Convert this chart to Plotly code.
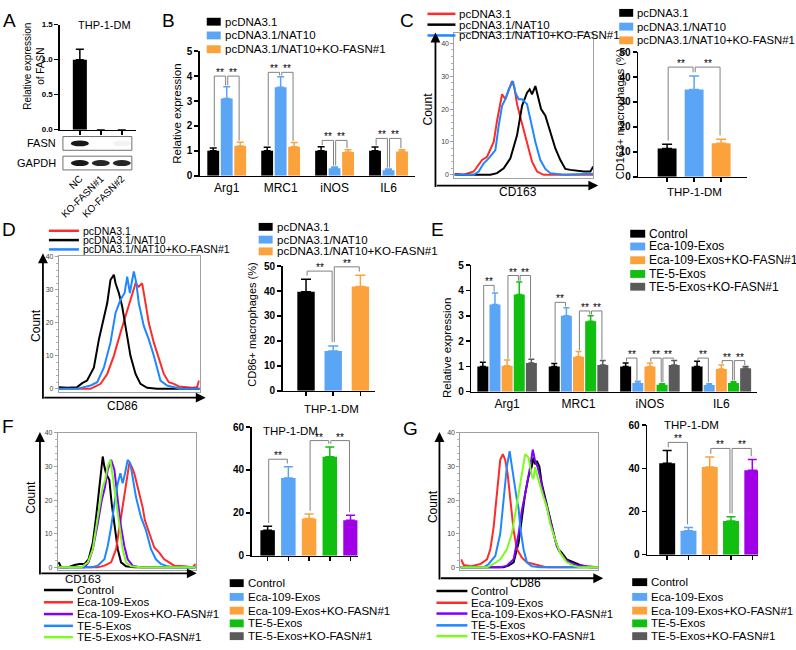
import plotly.graph_objects as go

W, H = 796, 650
FONT = "Arial, 'Liberation Sans', Helvetica, sans-serif"

# ---------------- colours ----------------
BLACK, BLUE, ORANGE, GREEN, GRAY, PURPLE = "#000000", "#5AA5F5", "#FBA23C", "#10BF10", "#5A5A5A", "#A100E6"
H_RED, H_BLACK, H_BLUE, H_PURPLE, H_GREEN = "#FF2A2A", "#000000", "#1E88FF", "#7F00FF", "#7CFC1E"

# ---------------- Panel A ----------------
A_lanes = ["NC", "KO-FASN#1", "KO-FASN#2"]
A_fasn_mean = [1.0, 0.0, 0.0]
A_fasn_sd = [0.15, 0.0, 0.0]
A_blot_rows = ["GAPDH", "FASN"]
A_blot_gapdh = [1.0, 0.95, 0.95]
A_blot_fasn = [1.0, 0.0, 0.06]

# ---------------- Panel B ----------------
B_genes = ["Arg1", "MRC1", "iNOS", "IL6"]
B_groups = ["pcDNA3.1", "pcDNA3.1/NAT10", "pcDNA3.1/NAT10+KO-FASN#1"]
B_mean_ctrl = [1.0, 1.0, 1.0, 1.0]
B_sd_ctrl = [0.12, 0.15, 0.17, 0.16]
B_mean_nat10 = [3.1, 3.55, 0.3, 0.22]
B_sd_nat10 = [0.47, 0.42, 0.05, 0.05]
B_mean_ko = [1.2, 1.17, 0.95, 0.97]
B_sd_ko = [0.15, 0.17, 0.1, 0.08]
B_sig = [(0, 0, 1, 4.0), (0, 1, 2, 4.0), (1, 0, 1, 4.15), (1, 1, 2, 4.15),
         (2, 0, 1, 1.42), (2, 1, 2, 1.42), (3, 0, 1, 1.5), (3, 1, 2, 1.5)]

# ---------------- Panel C (CD163 flow) ----------------
C_red_x = [0, 6.7, 13.9, 19.9, 23.5, 28.3, 30.7, 34.3, 36.7, 39.1, 41.5, 43.2, 45.1, 47.5, 52.3, 55.9, 59.5, 64.3, 100]
C_red_y = [0.3, 0, 1, 4.5, 5.5, 10, 16.5, 24.5, 23, 25.5, 28.5, 26.5, 21.5, 17.5, 9.5, 4, 1, 0, 0]
C_black_x = [0, 25.9, 30.7, 35.5, 40.3, 45.1, 48.7, 52.3, 54.2, 55.9, 58.3, 60, 62.4, 65.5, 69.1, 72.7, 76.3, 79.9, 83.5, 93.1, 97.9, 100]
C_black_y = [0, 0, 0.5, 2, 5, 12, 21, 25, 26, 24.5, 27, 24, 20, 18, 13, 8, 4.5, 1.8, 1.5, 1, 1, 2.5]
C_blue_x = [0, 13.9, 17.5, 21.1, 24.7, 29.5, 31.9, 34.3, 36.7, 39.1, 42.2, 43.9, 46.3, 48.7, 52.3, 54.7, 58.3, 61.9, 65.5, 69.1, 78.7, 100]
C_blue_y = [0, 0, 1, 3.5, 5, 7.5, 15, 21, 23, 26, 28.5, 25, 23, 23, 21.5, 17, 10, 4.5, 1.8, 0.5, 0, 0.3]
C_bar_mean = [11.3, 35.0, 13.5]
C_bar_sd = [1.7, 5.4, 1.6]
C_sig = [(0, 1, 44.0), (1, 2, 44.0)]

# ---------------- Panel D (CD86 flow) ----------------
D_red_x = [0, 22.5, 24.8, 29.6, 34.3, 39, 43.7, 47.3, 50.8, 54.4, 56.7, 59.1, 61.5, 63.8, 67.4, 70.9, 74.5, 78, 81.6, 85.1, 89.8, 94.6, 98.1, 99.5]
D_red_y = [0, 0, 0.5, 1.5, 4.5, 10, 17, 22, 27, 32, 31, 32, 26, 20, 14, 9.4, 4.5, 2, 1.5, 0.7, 0.5, 0.3, 0.5, 2.5]
D_black_x = [0, 5.9, 13, 16.5, 20, 24.8, 28.4, 30.7, 34.3, 36.6, 39, 40.2, 42.6, 44.9, 47.3, 50.8, 54.4, 57.9, 62.6, 69.7, 100]
D_black_y = [0.5, 0.3, 0.5, 1.7, 2.5, 6.4, 15, 19, 26, 33, 34.6, 32, 29, 25, 19, 10, 4.5, 1.5, 0.3, 0, 0]
D_blue_x = [0, 13, 17.7, 22.5, 27.2, 31.9, 36.6, 40.2, 43.7, 46.6, 48.5, 50.4, 52, 53.2, 55, 56.7, 60.3, 63.8, 67.4, 69.7, 72.1, 76.8, 81.6, 86.3, 100]
D_blue_y = [0, 0, 0.5, 1, 2, 6.4, 14, 23, 27, 29, 34, 29, 33, 35.6, 32, 26, 19, 15, 10, 6.4, 2.5, 1, 0.5, 0, 0]
D_bar_mean = [39.7, 16.0, 41.8]
D_bar_sd = [5.0, 2.0, 4.5]
D_sig = [(0, 1, 48.0), (1, 2, 49.7)]

# ---------------- Panel E ----------------
E_genes = ["Arg1", "MRC1", "iNOS", "IL6"]
E_groups = ["Control", "Eca-109-Exos", "Eca-109-Exos+KO-FASN#1", "TE-5-Exos", "TE-5-Exos+KO-FASN#1"]
E_mean_ctrl = [1.0, 1.0, 1.0, 1.0]
E_sd_ctrl = [0.16, 0.12, 0.14, 0.2]
E_mean_eca = [3.45, 3.0, 0.35, 0.27]
E_sd_eca = [0.45, 0.32, 0.06, 0.05]
E_mean_ecako = [1.03, 1.38, 1.0, 0.9]
E_sd_ecako = [0.22, 0.21, 0.14, 0.16]
E_mean_te5 = [3.84, 2.78, 0.28, 0.35]
E_sd_te5 = [0.49, 0.22, 0.04, 0.04]
E_mean_te5ko = [1.14, 1.06, 1.06, 0.93]
E_sd_te5ko = [0.14, 0.17, 0.17, 0.07]
E_sig = [(0, 0, 1, 4.2), (0, 2, 3, 4.59), (0, 3, 4, 4.59),
         (1, 0, 1, 3.53), (1, 2, 3, 3.19), (1, 3, 4, 3.19),
         (2, 0, 1, 1.33), (2, 2, 3, 1.33), (2, 3, 4, 1.33),
         (3, 0, 1, 1.33), (3, 2, 3, 1.23), (3, 3, 4, 1.23)]

# ---------------- Panel F (CD163 flow) ----------------
F_black_x = [0.5, 2.4, 7.2, 12, 15.7, 19.3, 22.2, 25.3, 27.7, 29.4, 30.8, 32.5, 33.7, 34.9, 36.1, 37.3, 39, 41, 43.4, 45.8, 49.4, 55.4, 100]
F_black_y = [1.5, 0, 0, 0.7, 1, 1, 2.4, 7.3, 15, 22, 28, 33, 30, 28, 27, 26, 19, 12, 5.4, 1.5, 0.3, 0, 0]
F_red_x = [0, 28.9, 33.7, 38.6, 42.2, 44.6, 47, 49.4, 51.8, 53.5, 55.4, 57.8, 59.8, 61.4, 63.1, 66.3, 69.9, 73.5, 77.1, 80.7, 84.3, 91.6, 97.6, 100]
F_red_y = [0, 0, 0.5, 1.5, 5.4, 12, 19, 25, 31, 30, 28, 24, 21, 18, 14, 10, 5.9, 4.4, 2.4, 1.5, 0.5, 0.3, 0, 1]
F_purple_x = [0, 19.3, 22.2, 25.3, 28.9, 31.8, 34.2, 36.1, 38.6, 41, 43.4, 45.8, 48.2, 50.6, 54.2, 60.2, 100]
F_purple_y = [0, 0, 1.5, 5.4, 13, 20, 24, 29, 32, 29, 20, 12, 6.3, 2.4, 0.5, 0, 0]
F_blue_x = [0, 24.1, 28.9, 33.7, 36.1, 38.6, 41, 43.4, 45.3, 47, 48.7, 50.6, 52.5, 54.2, 56.6, 60.2, 63.9, 67.5, 71.1, 74.7, 79.5, 84.3, 100]
F_blue_y = [0, 0, 0.5, 2.4, 6.3, 12, 19, 25, 28, 25, 28, 32, 31, 27, 21, 15, 11, 5.4, 2.4, 1, 0.3, 0, 0]
F_green_x = [0, 16.9, 21.7, 25.3, 28.9, 31.3, 32.5, 34.2, 36.1, 38.1, 39.8, 42.2, 44.6, 47, 49.4, 53, 60.2, 100]
F_green_y = [0, 0, 1.5, 5.4, 15, 22, 24, 26, 30, 32, 27, 19, 12, 5.4, 1.5, 0.3, 0, 0]
F_bar_mean = [11.9, 36.2, 17.3, 46.1, 16.5]
F_bar_sd = [1.8, 5.3, 2.1, 4.6, 2.3]
F_sig = [(0, 1, 45.0), (2, 3, 53.7), (3, 4, 53.7)]

# ---------------- Panel G (CD86 flow) ----------------
G_black_x = [0, 31.3, 34.9, 38.6, 42.2, 44.6, 47, 49.4, 51.8, 53, 54.2, 55.4, 57.3, 59, 61.4, 63.9, 66.3, 68.7, 71.1, 73.5, 77.1, 81.9, 86.7, 94, 100]
G_black_y = [0, 0, 0.5, 1.5, 7.3, 15, 22, 27, 30, 32.7, 30.7, 31.7, 30, 25, 21, 17, 13, 8.3, 5.4, 4.4, 2.4, 1.5, 0.7, 0, 0]
G_red_x = [0.5, 2.4, 7.2, 14.5, 19.3, 21.7, 24.1, 26.5, 28.9, 30.8, 32.5, 34.2, 36.1, 38.6, 41, 44.6, 48.2, 53, 57.8, 62.7, 100]
G_red_y = [2.4, 0.7, 0.3, 1, 2.4, 5.4, 12, 23, 32, 33.7, 32, 28, 20, 11, 5.4, 2.9, 1.5, 1, 0.5, 0, 0]
G_purple_x = [0, 28.9, 33.7, 38.6, 42.2, 44.6, 47, 49.4, 50.6, 52.5, 54.2, 55.9, 57.8, 60.2, 62.7, 65.1, 67.5, 69.9, 72.3, 75.9, 79.5, 84.3, 91.6, 100]
G_purple_y = [0, 0, 0.5, 2.4, 10, 17, 22, 27, 30, 35, 31.7, 30, 27, 22, 18, 14, 10, 6.3, 4.4, 2.4, 1.5, 0.7, 0.3, 0]
G_blue_x = [0, 16.9, 20.5, 25.3, 28.9, 31.3, 33.7, 35.7, 37.3, 39, 41, 42.2, 43.4, 45.8, 48.2, 51.8, 57.8, 100]
G_blue_y = [0, 0, 1, 3.4, 10, 20, 30, 34.6, 30, 25, 20, 17.6, 12, 5.4, 1.5, 0.3, 0, 0]
G_green_x = [0, 19.3, 24.1, 28.9, 33.7, 37.3, 39.8, 42.2, 44.6, 47, 49.4, 51.8, 53, 54.2, 55.9, 57.8, 60.2, 62.7, 65.1, 68.7, 72.3, 77.1, 81.9, 86.7, 100]
G_green_y = [0, 0, 1, 2.4, 5.4, 10, 16, 22, 27, 33.7, 32.7, 27.3, 26.3, 29.8, 27, 24, 21, 18, 13, 8.3, 4.4, 1.5, 0.5, 0, 0]
G_bar_mean = [42.4, 11.1, 40.6, 15.6, 39.1]
G_bar_sd = [5.8, 1.5, 4.6, 2.0, 5.0]
G_sig = [(0, 1, 52.0), (2, 3, 49.2), (3, 4, 49.2)]

# =====================================================================
fig = go.Figure()
axes_layout, ann, shapes = {}, [], []
counter = [0]


def px(x):
    return x / W


def py(y):
    return 1 - y / H


def make_axes(x0, x1, y0, y1, xr, yr, xkw=None, ykw=None):
    counter[0] += 1
    s = "" if counter[0] == 1 else str(counter[0])
    xa = dict(domain=[px(x0), px(x1)], range=xr, anchor="y" + s, showgrid=False, zeroline=False)
    ya = dict(domain=[py(y1), py(y0)], range=yr, anchor="x" + s, showgrid=False, zeroline=False)
    xa.update(xkw or {})
    ya.update(ykw or {})
    axes_layout["xaxis" + s] = xa
    axes_layout["yaxis" + s] = ya
    return "x" + s, "y" + s


def text(x, y, t, size=12, angle=0, xanchor="center", yanchor="middle", color="black"):
    ann.append(dict(x=px(x), y=py(y), xref="paper", yref="paper", text=t, showarrow=False,
                    font=dict(size=size, color=color, family=FONT), textangle=angle,
                    xanchor=xanchor, yanchor=yanchor))


def legend(x, ys, labels, colors, kind="rect", sw=14, sh=8, size=11.5, gap=2):
    for yc, lab, col in zip(ys, labels, colors):
        if kind == "rect":
            shapes.append(dict(type="rect", xref="paper", yref="paper", x0=px(x), x1=px(x + sw),
                               y0=py(yc + sh / 2), y1=py(yc - sh / 2), fillcolor=col, line=dict(width=0)))
        else:
            shapes.append(dict(type="line", xref="paper", yref="paper", x0=px(x), x1=px(x + sw),
                               y0=py(yc), y1=py(yc), line=dict(color=col, width=2.5)))
        text(x + sw + gap, yc, lab, size=size, xanchor="left")


def ybar_axis(dtick, fmt=None, size=10):
    return dict(showline=True, linecolor="black", linewidth=1.5, ticks="outside", ticklen=4, tickwidth=1.5,
                tickcolor="black", tickmode="linear", tick0=0, dtick=dtick, tickformat=fmt,
                tickfont=dict(size=size, color="black", family=FONT, weight="bold"))


def xbar_axis(tickvals, ticktext=None, ticks="outside", size=12):
    return dict(showline=True, linecolor="black", linewidth=1.5, ticks=ticks, ticklen=4, tickwidth=1.5,
                tickcolor="black", tickmode="array", tickvals=tickvals, ticktext=ticktext,
                showticklabels=ticktext is not None, tickfont=dict(size=size, color="black", family=FONT))


def add_bar(xa, ya, xs, ys, errs, col, width, cap):
    fig.add_trace(go.Bar(x=xs, y=ys, width=width, marker=dict(color=col, line=dict(width=0)),
                         error_y=dict(type="data", array=errs, arrayminus=[0] * len(errs), symmetric=False,
                                      color=col, thickness=1.5, width=cap),
                         xaxis=xa, yaxis=ya, showlegend=False, hoverinfo="skip"))


def bracket(xa, ya, x1, x2, y1, y2, top, size=10):
    fig.add_trace(go.Scatter(x=[x1, x1, x2, x2], y=[y1, top, top, y2], mode="lines",
                             line=dict(color="#808080", width=1), xaxis=xa, yaxis=ya,
                             showlegend=False, hoverinfo="skip"))
    ann.append(dict(x=(x1 + x2) / 2, y=top, xref=xa, yref=ya, text="**", showarrow=False,
                    font=dict(size=size, color="black", family=FONT), yanchor="bottom", yshift=-4))


def grouped(xa, ya, means, sds, colors, offsets, width, cap, sig, gap, d):
    for m, s, c, o in zip(means, sds, colors, offsets):
        add_bar(xa, ya, [i + o for i in range(len(m))], m, s, c, width, cap)
    for cat, a, b, top in sig:
        bracket(xa, ya, cat + offsets[a] + d, cat + offsets[b] - d,
                means[a][cat] + sds[a][cat] + gap, means[b][cat] + sds[b][cat] + gap, top)


def single(xa, ya, means, sds, colors, width, cap, sig, gap, d):
    for i, (m, s, c) in enumerate(zip(means, sds, colors)):
        add_bar(xa, ya, [i], [m], [s], c, width, cap)
    for a, b, top in sig:
        bracket(xa, ya, a + d, b - d, means[a] + sds[a] + gap, means[b] + sds[b] + gap, top)


def arrows(xl, yb, ytop, xright):
    ann.append(dict(x=px(xl), y=py(ytop), xref="paper", yref="paper", ax=0, ay=yb - ytop, axref="pixel",
                    ayref="pixel", showarrow=True, arrowhead=2, arrowsize=1.1, arrowwidth=1.8,
                    arrowcolor="black", text="", standoff=0, startstandoff=0))
    ann.append(dict(x=px(xright), y=py(yb), xref="paper", yref="paper", ax=-(xright - xl), ay=0, axref="pixel",
                    ayref="pixel", showarrow=True, arrowhead=2, arrowsize=1.1, arrowwidth=1.8,
                    arrowcolor="black", text="", standoff=0, startstandoff=0))


def hist(frame, yr, curves):
    x0, x1, y0, y1 = frame
    fk = dict(showline=True, mirror=True, linecolor="#a0a0a0", linewidth=1)
    xkw = dict(fk, showticklabels=False, ticks="")
    ykw = dict(fk, tickmode="linear", tick0=0, dtick=10, ticks="outside", ticklen=3, tickcolor="#a0a0a0",
               tickfont=dict(size=7, color="#444", family=FONT),
               minor=dict(ticks="outside", ticklen=2, tickmode="linear", tick0=0, dtick=2, tickcolor="#b0b0b0"))
    xa, ya = make_axes(x0, x1, y0, y1, [0, 100], yr, xkw, ykw)
    for xs, ys, col in curves:
        fig.add_trace(go.Scatter(x=xs, y=ys, mode="lines", line=dict(color=col, width=2),
                                 xaxis=xa, yaxis=ya, showlegend=False, hoverinfo="skip"))
    return xa, ya


# ---------------- Panel A ----------------
xa, ya = make_axes(59, 135, 19, 126, [-0.95, 2.67], [0, 1.5],
                   xbar_axis([0, 1, 2]), ybar_axis(0.5, ".1f", size=8))
single(xa, ya, A_fasn_mean, A_fasn_sd, [BLACK, BLACK, BLACK], 0.67, 4, [], 0, 0)
text(104, 19, "THP-1-DM", size=11)
text(33, 61, "Relative expression<br>of FASN", size=10, angle=-90)
# blot
bx, by = make_axes(59, 135, 133, 167, [-0.95, 2.67], [-0.35, 1.35],
                   dict(showline=False, ticks="", tickmode="array", tickvals=[0, 1, 2], ticktext=A_lanes,
                        tickangle=-45, tickfont=dict(size=10, color="black", family=FONT)),
                   dict(visible=False))
for top, bot in [(133, 147), (153, 167)]:
    shapes.append(dict(type="rect", xref="paper", yref="paper", x0=px(62), x1=px(131), y0=py(bot), y1=py(top),
                       line=dict(color="#707070", width=1), fillcolor="white", layer="below"))
for r, intens in enumerate([A_blot_gapdh, A_blot_fasn]):
    for i, v in enumerate(intens):
        if v > 0:
            shapes.append(dict(type="circle", xref=bx, yref=by, x0=i - 0.43, x1=i + 0.43, y0=r - 0.15, y1=r + 0.15,
                               fillcolor="rgba(0,0,0,%.2f)" % (0.9 * v), line=dict(width=0)))
text(57, 140, "FASN", size=11, xanchor="right")
text(57, 160, "GAPDH", size=11, xanchor="right")

# ---------------- Panel B ----------------
xa, ya = make_axes(199, 415, 46, 173, [-0.5, 3.5], [0, 5],
                   xbar_axis([0, 1, 2, 3], B_genes, ticks="", size=12), ybar_axis(1))
grouped(xa, ya, [B_mean_ctrl, B_mean_nat10, B_mean_ko], [B_sd_ctrl, B_sd_nat10, B_sd_ko],
        [BLACK, BLUE, ORANGE], [-0.25, 0, 0.25], 0.22, 3.5, B_sig, 0.06, 0.02)
text(176, 110, "Relative expression", size=11.5, angle=-90)
legend(206, [16, 30, 44], B_groups, [BLACK, BLUE, ORANGE])

# ---------------- Panel C ----------------
hist((454, 593, 28, 175), [-0.9, 43], [(C_red_x, C_red_y, H_RED), (C_black_x, C_black_y, H_BLACK),
                                       (C_blue_x, C_blue_y, H_BLUE)])
arrows(435, 183, 27, 598)
text(428, 105, "Count", size=12, angle=-90)
text(518, 190, "CD163", size=12)
legend(427, [8, 19, 30], B_groups, [H_RED, H_BLACK, H_BLUE], kind="line", sw=28, size=11.5)

xa, ya = make_axes(638, 747, 47, 174, [-1.07, 2.96], [0, 50], xbar_axis([0, 1, 2]), ybar_axis(10))
single(xa, ya, C_bar_mean, C_bar_sd, [BLACK, BLUE, ORANGE], 0.7, 5, C_sig, 1.5, 0.04)
text(620, 110, "CD163+ macrophages (%)", size=11, angle=-90)
text(694, 190, "THP-1-DM", size=11.5)
legend(619, [7, 21, 35], B_groups, [BLACK, BLUE, ORANGE], size=11.3)

# ---------------- Panel D ----------------
hist((58, 199, 255, 393), [-0.9, 40.2], [(D_red_x, D_red_y, H_RED), (D_black_x, D_black_y, H_BLACK),
                                         (D_blue_x, D_blue_y, H_BLUE)])
arrows(42, 399, 252, 205)
text(35, 325, "Count", size=12, angle=-90)
text(122, 408, "CD86", size=12)
legend(48, [229, 238.5, 248], B_groups, [H_RED, H_BLACK, H_BLUE], kind="line", sw=30, size=10.5)

xa, ya = make_axes(282, 374, 265, 392, [-0.86, 2.52], [0, 50], xbar_axis([0, 1, 2]), ybar_axis(10))
single(xa, ya, D_bar_mean, D_bar_sd, [BLACK, BLUE, ORANGE], 0.64, 5, D_sig, 1.5, 0.04)
text(251, 325, "CD86+ macrophages (%)", size=11, angle=-90)
text(331, 411, "THP-1-DM", size=11.5)
legend(258, [225, 238, 250], B_groups, [BLACK, BLUE, ORANGE])

# ---------------- Panel E ----------------
xa, ya = make_axes(471, 757, 264, 393, [-0.5, 3.5], [0, 5],
                   xbar_axis([0, 1, 2, 3], E_genes, ticks="", size=12), ybar_axis(1))
grouped(xa, ya, [E_mean_ctrl, E_mean_eca, E_mean_ecako, E_mean_te5, E_mean_te5ko],
        [E_sd_ctrl, E_sd_eca, E_sd_ecako, E_sd_te5, E_sd_te5ko],
        [BLACK, BLUE, ORANGE, GREEN, GRAY], [-0.34, -0.17, 0, 0.17, 0.34], 0.154, 3, E_sig, 0.05, 0.012)
text(446, 348, "Relative expression", size=11.5, angle=-90)
legend(630, [232, 245, 259, 273, 286], E_groups, [BLACK, BLUE, ORANGE, GREEN, GRAY], sw=15, size=12)

# ---------------- Panel F ----------------
hist((57, 195, 435, 575), [-0.9, 40], [(F_black_x, F_black_y, H_BLACK), (F_red_x, F_red_y, H_RED),
                                       (F_purple_x, F_purple_y, H_PURPLE), (F_blue_x, F_blue_y, H_BLUE),
                                       (F_green_x, F_green_y, H_GREEN)])
arrows(39, 578, 434, 196)
text(30, 500, "Count", size=12, angle=-90)
text(82, 584, "CD163", size=11.5)
legend(43, [595, 607.5, 619.5, 631.5, 643], E_groups, [H_BLACK, H_RED, H_PURPLE, H_BLUE, H_GREEN],
       kind="line", sw=29, size=11.5)

xa, ya = make_axes(251, 357, 429, 560, [-0.77, 4.34], [0, 60], xbar_axis([0, 1, 2, 3, 4]), ybar_axis(20))
single(xa, ya, F_bar_mean, F_bar_sd, [BLACK, BLUE, ORANGE, GREEN, PURPLE], 0.7, 4.5, F_sig, 1.5, 0.05)
text(290, 433, "THP-1-DM", size=11.5)
legend(229, [588, 602, 616, 629, 642], E_groups, [BLACK, BLUE, ORANGE, GREEN, GRAY])

# ---------------- Panel G ----------------
hist((460, 598, 435, 575), [-0.9, 40], [(G_black_x, G_black_y, H_BLACK), (G_red_x, G_red_y, H_RED),
                                        (G_purple_x, G_purple_y, H_PURPLE), (G_blue_x, G_blue_y, H_BLUE),
                                        (G_green_x, G_green_y, H_GREEN)])
arrows(439, 583, 434, 603)
text(432, 510, "Count", size=12, angle=-90)
text(525, 588, "CD86", size=12)
legend(436, [596, 608, 619, 631, 642], E_groups, [H_BLACK, H_RED, H_PURPLE, H_BLUE, H_GREEN],
       kind="line", sw=31, size=11.5)

xa, ya = make_axes(647, 758, 427, 559, [-0.94, 4.27], [0, 60], xbar_axis([0, 1, 2, 3, 4]), ybar_axis(20))
single(xa, ya, G_bar_mean, G_bar_sd, [BLACK, BLUE, ORANGE, GREEN, PURPLE], 0.75, 4.5, G_sig, 1.5, 0.05)
text(691, 427, "THP-1-DM", size=11.5)
legend(632, [587, 602, 616, 629, 642], E_groups, [BLACK, BLUE, ORANGE, GREEN, GRAY], sw=15)

# ---------------- panel letters ----------------
for lab, x, y in [("A", 9, 15), ("B", 168, 15), ("C", 407, 15), ("D", 8, 228), ("E", 437, 228),
                  ("F", 7, 428), ("G", 410, 430)]:
    text(x, y, lab, size=19)

fig.update_layout(width=W, height=H, autosize=False, margin=dict(l=0, r=0, t=0, b=0),
                  paper_bgcolor="white", plot_bgcolor="rgba(0,0,0,0)", barmode="overlay",
                  font=dict(family=FONT, color="black"), showlegend=False,
                  annotations=ann, shapes=shapes, **axes_layout)
fig.write_html("out.html", config={"displayModeBar": False, "staticPlot": True},
               post_script="document.body.style.margin='0';document.body.style.overflow='hidden';")
